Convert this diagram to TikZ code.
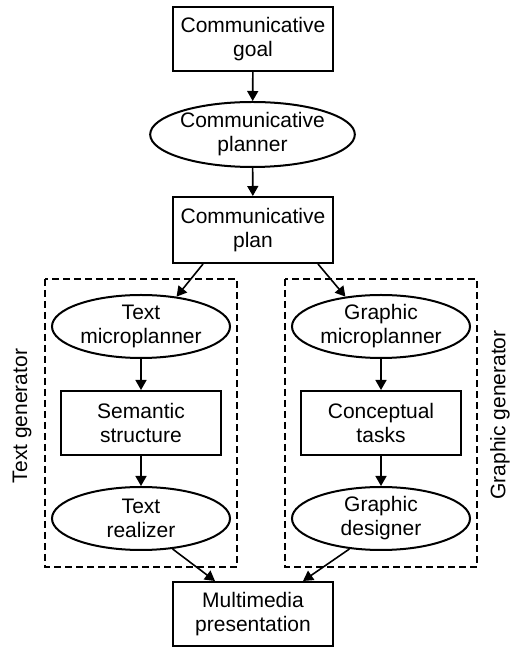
\documentclass[tikz,border=0pt]{standalone}
\usepackage{fontspec}
\setmainfont{Liberation Sans}
\usetikzlibrary{shapes.geometric,arrows.meta}
\begin{document}
\begin{tikzpicture}[x=1pt,y=1pt,
  box/.style={draw,line width=2pt,rectangle,minimum width=160pt,minimum height=64pt,align=center,inner sep=0pt},
  oval/.style={draw,line width=2pt,ellipse,minimum width=178pt,minimum height=63pt,align=center,inner sep=0pt},
  arr/.style={line width=1.6pt,-{Triangle[length=10pt,width=11pt]}},
  grp/.style={line width=1.8pt,dash pattern=on 7pt off 4pt},
  font=\fontsize{21}{24}\selectfont]

\useasboundingbox (0,0) rectangle (511,647);

\node[box] (goal) at (253,608) {Communicative\\goal};
\node[oval,minimum width=193pt,minimum height=65pt] (planner) at (252.5,512.5) {Communicative\\planner};
\node[box,minimum height=66pt] (plan) at (253,417) {Communicative\\plan};

\draw[grp] (45,368) rectangle (237,80);
\draw[grp] (285,368) rectangle (477,80);

\node[oval] (tmp) at (141,320.5) {Text\\microplanner};
\node[box] (sem) at (141,224) {Semantic\\structure};
\node[oval] (treal) at (141,128.5) {Text\\realizer};

\node[oval] (gmp) at (381,320.5) {Graphic\\microplanner};
\node[box] (ctask) at (381,224) {Conceptual\\tasks};
\node[oval] (gdes) at (381,128.5) {Graphic\\designer};

\node[box] (multi) at (253,33) {Multimedia\\presentation};

\node[rotate=90] (tgen) at (22,231) {Text generator};
\node[rotate=90] (ggen) at (500,232) {Graphic generator};

\draw[arr] (goal) -- (planner);
\draw[arr] (planner) -- (plan);
\draw[arr] ([xshift=-50pt]plan.south) -- (tmp.40);
\draw[arr] ([xshift=65pt]plan.south) -- (gmp.140);
\draw[arr] (tmp) -- (sem);
\draw[arr] (sem) -- (treal);
\draw[arr] (gmp) -- (ctask);
\draw[arr] (ctask) -- (gdes);
\draw[arr] (treal.-44) -- ([xshift=-38pt]multi.north);
\draw[arr] (gdes.-136) -- ([xshift=50pt]multi.north);
\end{tikzpicture}
\end{document}
